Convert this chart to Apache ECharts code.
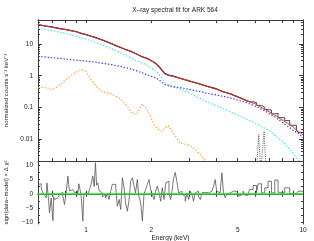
<!DOCTYPE html>
<html>
<head>
<meta charset="utf-8">
<script src="https://cdn.jsdelivr.net/npm/echarts@6/dist/echarts.min.js"></script>
<style>html,body{margin:0;padding:0;background:#fff}#c{width:314px;height:241px}</style>
</head>
<body>
<div id="c"></div>
<script>
// ---- data ----
const modelEnergy = [0.6,0.65,0.7,0.75,0.8,0.85,0.9,0.95,1.0,1.1,1.2,1.3,1.4,1.5,1.6,1.7,1.8,1.9,2.0,2.1,2.2,2.3,2.4,2.5,2.7,3.0,3.3,3.6,4.0,4.3,4.6,5.0,5.5,6.0,6.5,7.0,7.5,8.0,8.5,9.0,9.5,10];
const totalModel = [41,37.5,34.5,31.5,29,27,24.5,22,19.8,16,13,10.5,8.6,7.1,5.9,4.9,4.1,3.5,2.95,2.45,1.75,1.15,1.02,0.96,0.84,0.68,0.56,0.46,0.37,0.31,0.27,0.215,0.16,0.13,0.095,0.072,0.054,0.04,0.031,0.024,0.017,0.0138];
const softComp = [32,29,26.5,24,22,20,18,16,14.3,11.5,9.2,7.3,5.8,4.6,3.7,3.0,2.6,2.2,1.75,1.4,1.0,0.62,0.52,0.46,0.38,0.28,0.2,0.15,0.11,0.09,0.072,0.056,0.042,0.032,0.024,0.018,0.012,0.0085,0.0055,0.0035,0.0022,0.0014];
const powerComp = [4.1,3.9,3.7,3.55,3.4,3.25,3.1,3.0,2.9,2.7,2.45,2.25,2.05,1.85,1.65,1.45,1.25,1.1,0.95,0.85,0.68,0.53,0.48,0.45,0.42,0.37,0.32,0.28,0.245,0.22,0.2,0.17,0.14,0.11,0.085,0.063,0.047,0.034,0.025,0.019,0.015,0.011];

const dataEnergyLow = [0.6,0.65,0.7,0.75,0.8,0.85,0.9,0.95,1.0,1.1,1.2,1.3,1.4,1.5,1.6,1.7,1.8,1.9,2.0,2.1,2.2,2.3,2.4,2.5,2.7,3.0,3.3,3.6,4.0,4.3,4.6,5.0,5.5,5.685];
const dataRateLow = [41.5,37,34.8,31.2,29.3,26.8,24.7,21.8,19.9,16.4,13.1,10.6,8.5,7.0,6.0,4.95,4.05,3.6,2.98,2.42,1.72,1.18,1.04,0.99,0.84,0.68,0.56,0.465,0.38,0.31,0.272,0.215,0.162,0.15];
const dataEnergyHigh = [5.685,5.888,6.104,6.21,6.436,6.664,6.902,7.154,7.41,7.674,8.239,8.686,9.325,9.485,10.0];
const dataRateHigh = [0.15,0.14,0.115,0.115,0.1,0.085,0.082,0.062,0.064,0.047,0.038,0.027,0.019,0.016,0.016];

const lineEnergy = [0.6,0.643,0.70,0.77,0.84,0.90,0.955,1.0,1.054,1.11,1.19,1.30,1.42,1.53,1.64,1.73,1.81,1.89,1.99,2.08,2.15,2.23,2.39,2.52,2.71,3.01,3.17,3.53,3.7];
const lineComp = [0.41,0.44,0.36,0.56,0.95,1.3,1.55,1.37,0.75,0.46,0.31,0.27,0.198,0.12,0.062,0.066,0.13,0.095,0.047,0.025,0.02,0.0175,0.0265,0.0155,0.0075,0.0062,0.0047,0.0022,0.0015];

const feEnergy = [6.1,6.25,6.38,6.5,6.62,6.75];
const feComp = [0.001,0.0138,0.001,0.001,0.0175,0.001];

const residEnergy = [0.600,0.610,0.621,0.632,0.643,0.655,0.660,0.666,0.672,0.678,0.690,0.703,0.709,0.715,0.728,0.741,0.754,0.767,0.781,0.795,0.809,0.824,0.831,0.838,0.853,0.869,0.885,0.900,0.913,0.926,0.940,0.948,0.966,0.975,0.990,1.000,1.020,1.036,1.054,1.073,1.090,1.104,1.118,1.132,1.150,1.172,1.19,1.21,1.23,1.253,1.275,1.299,1.32,1.346,1.37,1.394,1.42,1.444,1.47,1.496,1.52,1.549,1.575,1.606,1.635,1.663,1.69,1.722,1.75,1.785,1.817,1.849,1.88,1.915,1.95,1.985,2.02,2.056,2.09,2.129,2.17,2.207,2.245,2.286,2.33,2.367,2.41,2.454,2.488,2.53,2.576,2.62,2.671,2.72,2.766,2.81,2.864,2.92,2.969,3.02,3.075,3.13,3.184,3.24,3.301,3.36,3.419,3.48,3.540,3.60,3.670,3.73,3.800,3.87,3.936,4.00,4.080,4.15,4.226,4.30,4.375,4.45,4.536,4.62,4.697,4.78,4.864,4.95,5.042,5.114,5.296,5.40,5.59,5.685,5.888,6.104,6.21,6.436,6.664,6.902,7.154,7.41,7.674,8.239,8.686,9.325,9.485,10.0];
const residVal = [3.3,3.5,2.0,0.3,-0.5,-1.4,3.8,0.5,-2.6,-6.7,-1.5,-9.4,-1.0,-2.0,-1.4,-2.0,-0.2,0.5,-0.8,-3.8,0.3,6.2,3.3,1.0,1.5,0.9,0.3,1.0,-0.5,3.5,1.0,-0.5,-9.6,-0.8,0.3,-0.2,0.5,1.5,3.3,6.3,2.5,10.9,3.0,3.8,1.0,0.3,-1.0,-0.5,-1.5,0.2,-2.0,0.9,3.3,3.3,2.1,-4.35,-2.0,-5.5,5.6,2.1,-3.2,-6.1,-2.6,4.4,5.6,2.7,0.33,5.0,-0.8,-3.2,-9.6,-0.2,1.5,3.3,5.0,1.5,-0.2,-2.0,0.9,2.7,0.33,-2.6,2.1,-2.0,3.85,4.4,0.33,-2.0,0.9,5.3,7.5,4.4,0.33,0.9,-0.2,-0.83,-2.6,0.33,-2.0,0.92,-0.2,-2.6,0.33,0.92,-0.83,-2.0,0.33,0.5,0.5,0.33,0.33,0.92,1.5,2.7,5.0,0.92,0.33,0.92,7.35,0.33,-1.4,-0.2,0.33,0,0.92,0.92,0.92,0.33,-0.83,-0.2,0.92,-0.5,0.33,1.5,2.9,0.33,3.5,0.33,2.1,4.4,0.33,4.8,0.5,2.1,0,0,0.9,0.9];

const xTickValues = [0.7,0.8,0.9,1,2,3,4,5,6,7,8,9,10];
const xLabelValues = [1,2,5,10];
const yMajorValues = [0.01,0.1,1,10];
const yMinorValues = [0.003,0.004,0.005,0.006,0.007,0.008,0.009,0.02,0.03,0.04,0.05,0.06,0.07,0.08,0.09,0.2,0.3,0.4,0.5,0.6,0.7,0.8,0.9,2,3,4,5,6,7,8,9,20,30,40,50];
const resTickValues = [-10,-7.5,-5,-2.5,0,2.5,5,7.5,10];
const resLabelValues = [-10,-5,0,5,10];

// ---- chart ----
const zip = (a, b) => a.map((v, i) => [v, b[i]]);
const FONT = 'Liberation Sans';
const AX = '#3a3a3a';
const chart = echarts.init(document.getElementById('c'), null, {renderer: 'canvas'});

function xAx(grid, pos, labels, name) {
  return {
    type: 'log', logBase: 10, gridIndex: grid, position: pos, min: 0.6, max: 10,
    axisLine: {show: true, lineStyle: {color: AX, width: 1}},
    axisTick: {show: true, inside: true, length: 3, customValues: xTickValues, lineStyle: {color: AX, width: 1}},
    axisLabel: labels ? {show: true, customValues: xLabelValues, margin: 3, fontSize: 6.5, color: '#222', fontFamily: FONT} : {show: false},
    splitLine: {show: false}, minorTick: {show: false},
    name: name || '', nameLocation: 'middle', nameGap: 11,
    nameTextStyle: {fontSize: 6.5, color: '#222', fontFamily: FONT}
  };
}
function yLog(pos, vals, len, labels, name) {
  return {
    type: 'log', logBase: 10, gridIndex: 0, position: pos, min: 0.002, max: 58,
    axisLine: {show: true, lineStyle: {color: AX, width: 1}},
    axisTick: {show: true, inside: true, length: len, customValues: vals, lineStyle: {color: AX, width: 1}},
    axisLabel: labels ? {show: true, customValues: yMajorValues, margin: 5, fontSize: 6.5, color: '#222', fontFamily: FONT,
      formatter: v => String(+(+v).toPrecision(3))} : {show: false},
    splitLine: {show: false},
    name: name || '', nameLocation: 'middle', nameGap: 29,
    nameTextStyle: {fontSize: 6, color: '#222', fontFamily: FONT}
  };
}
function yRes(pos, labels, name) {
  return {
    type: 'value', gridIndex: 1, position: pos, min: -10.6, max: 11.5,
    axisLine: {show: true, lineStyle: {color: AX, width: 1}},
    axisTick: {show: true, inside: true, length: 2, customValues: resTickValues, lineStyle: {color: AX, width: 1}},
    axisLabel: labels ? {show: true, customValues: resLabelValues, margin: 5, fontSize: 6.5, color: '#222', fontFamily: FONT,
      formatter: v => (v < 0 ? '\u2212' + Math.abs(v) : String(v))} : {show: false},
    splitLine: {show: false},
    name: name || '', nameLocation: 'middle', nameGap: 29,
    nameTextStyle: {fontSize: 6, color: '#222', fontFamily: FONT}
  };
}
const dotted = [1.4, 1.8];

chart.setOption({
  animation: false,
  backgroundColor: '#fff',
  title: {text: 'X\u2013ray spectral fit for ARK 564', left: 170, textAlign: 'center', top: 2,
    textStyle: {fontSize: 6.5, fontWeight: 'normal', color: '#222', fontFamily: FONT}},
  grid: [
    {left: 38, right: 11, top: 20, height: 141, containLabel: false, outerBoundsMode: 'none'},
    {left: 38, right: 11, top: 161, height: 63, containLabel: false, outerBoundsMode: 'none'}
  ],
  xAxis: [xAx(0, 'bottom', false), xAx(0, 'top', false), xAx(1, 'bottom', true, 'Energy (keV)'), xAx(1, 'top', false)],
  yAxis: [
    yLog('left', yMajorValues, 4, true, 'normalized counts s\u207B\u00B9 keV\u207B\u00B9'),
    yLog('left', yMinorValues, 2, false),
    yLog('right', yMajorValues, 4, false),
    yLog('right', yMinorValues, 2, false),
    yRes('left', true, 'sign(data\u2212model) \u00D7 \u0394 \u03C7\u00B2'),
    yRes('right', false)
  ],
  series: [
    {type: 'line', xAxisIndex: 0, yAxisIndex: 0, data: zip(lineEnergy, lineComp), showSymbol: false,
      lineStyle: {color: '#ff9f40', width: 1.2, type: dotted}},
    {type: 'line', xAxisIndex: 0, yAxisIndex: 0, data: zip(feEnergy, feComp), showSymbol: false,
      lineStyle: {color: '#333', width: 0.8, type: [1, 1.2]}},
    {type: 'line', xAxisIndex: 0, yAxisIndex: 0, data: zip(modelEnergy, softComp), showSymbol: false,
      lineStyle: {color: '#3fe6e6', width: 1.2, type: dotted}},
    {type: 'line', xAxisIndex: 0, yAxisIndex: 0, data: zip(modelEnergy, powerComp), showSymbol: false,
      lineStyle: {color: '#3b3bf0', width: 1.2, type: dotted}},
    {type: 'line', xAxisIndex: 0, yAxisIndex: 0, data: zip(dataEnergyLow, dataRateLow), showSymbol: false,
      lineStyle: {color: '#222', width: 1.3}},
    {type: 'line', xAxisIndex: 0, yAxisIndex: 0, data: zip(dataEnergyHigh, dataRateHigh), showSymbol: false, step: 'end',
      lineStyle: {color: '#333', width: 0.9}},
    {type: 'line', xAxisIndex: 0, yAxisIndex: 0, data: zip(modelEnergy, totalModel), showSymbol: false,
      lineStyle: {color: '#e03535', width: 1}},
    {type: 'line', xAxisIndex: 2, yAxisIndex: 4, data: zip(residEnergy, residVal), showSymbol: false, step: 'end',
      lineStyle: {color: '#555', width: 0.8},
      markLine: {silent: true, symbol: 'none', label: {show: false},
        lineStyle: {color: '#22e022', width: 1.5, type: 'solid'}, data: [{yAxis: 0}]}}
  ]
});
</script>
</body>
</html>
